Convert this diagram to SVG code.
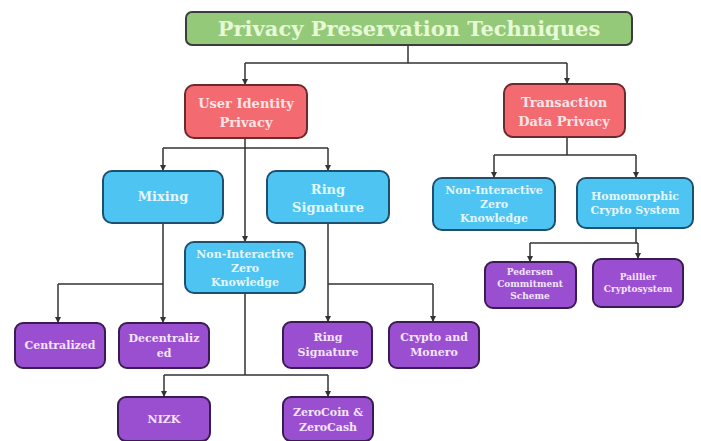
<svg xmlns="http://www.w3.org/2000/svg" width="701" height="441" viewBox="0 0 701 441">
<defs>
<marker id="ah" viewBox="0 0 6 6" refX="5" refY="3" markerWidth="6" markerHeight="6" markerUnits="userSpaceOnUse" orient="auto">
<path d="M0,0 L6,3 L0,6 Z" fill="#333"/>
</marker>
<style>
text{font-family:'DejaVu Serif','Liberation Serif',serif;font-weight:bold;text-anchor:middle}
.g{fill:#95c97a;stroke:#3c3c3c;stroke-width:2}
.r{fill:#f36b70;stroke:#6b2a2e;stroke-width:2}
.b{fill:#4ec4f2;stroke:#1d4f6e;stroke-width:2}
.p{fill:#9a4fd0;stroke:#3a1c52;stroke-width:2}
.gt{fill:#e6fad6;font-size:21px}
.rt{fill:#fde4e6;font-size:13px}
.bt{fill:#e4f7ff;font-size:13px}
.bs{fill:#e4f7ff;font-size:11px}
.pt{fill:#f3e4ff;font-size:11px}
.ps{fill:#f3e4ff;font-size:9px}
.c{fill:none;stroke:#333;stroke-width:1.5}
</style>
</defs>
<rect width="701" height="441" fill="#ffffff"/>
<g id="connectors">
<path class="c" d="M408,45 V63 M245,63 H567"/>
<path class="c" d="M245,63 V84" marker-end="url(#ah)"/>
<path class="c" d="M567,63 V83" marker-end="url(#ah)"/>
<path class="c" d="M245,138 V148 M163,148 H328"/>
<path class="c" d="M163,148 V170" marker-end="url(#ah)"/>
<path class="c" d="M328,148 V170" marker-end="url(#ah)"/>
<path class="c" d="M245,148 V241" marker-end="url(#ah)"/>
<path class="c" d="M567,137 V155 M494,155 H636"/>
<path class="c" d="M494,155 V177" marker-end="url(#ah)"/>
<path class="c" d="M636,155 V177" marker-end="url(#ah)"/>
<path class="c" d="M636,228 V243 M530,243 H638"/>
<path class="c" d="M530,243 V261" marker-end="url(#ah)"/>
<path class="c" d="M638,243 V258" marker-end="url(#ah)"/>
<path class="c" d="M163,223 V284 M58,284 H163"/>
<path class="c" d="M58,284 V322" marker-end="url(#ah)"/>
<path class="c" d="M163,284 V322" marker-end="url(#ah)"/>
<path class="c" d="M328,223 V284 M328,284 H433"/>
<path class="c" d="M328,284 V321" marker-end="url(#ah)"/>
<path class="c" d="M433,284 V321" marker-end="url(#ah)"/>
<path class="c" d="M245,293 V375 M164,375 H328"/>
<path class="c" d="M164,375 V396" marker-end="url(#ah)"/>
<path class="c" d="M328,375 V396" marker-end="url(#ah)"/>
</g>
<g id="n-root"><rect class="g" x="186" y="12" width="446" height="33" rx="6"/><text class="gt" x="409" y="36">Privacy Preservation Techniques</text></g>
<g id="n-user"><rect class="r" x="185" y="85" width="122" height="53" rx="9"/><text class="rt" x="246" y="108">User Identity</text><text class="rt" x="246" y="127">Privacy</text></g>
<g id="n-trans"><rect class="r" x="504" y="84" width="121" height="53" rx="9"/><text class="rt" x="564" y="107">Transaction</text><text class="rt" x="564" y="126">Data Privacy</text></g>
<g id="n-mixing"><rect class="b" x="103" y="171" width="120" height="52" rx="9"/><text class="bt" x="163" y="201">Mixing</text></g>
<g id="n-ring"><rect class="b" x="267" y="171" width="122" height="52" rx="9"/><text class="bt" x="328" y="194">Ring</text><text class="bt" x="328" y="212">Signature</text></g>
<g id="n-nizk-l"><rect class="b" x="185" y="242" width="120" height="51" rx="9"/><text class="bs" x="245" y="258">Non-Interactive</text><text class="bs" x="245" y="272">Zero</text><text class="bs" x="245" y="286">Knowledge</text></g>
<g id="n-nizk-r"><rect class="b" x="433" y="178" width="122" height="52" rx="9"/><text class="bs" x="494" y="194">Non-Interactive</text><text class="bs" x="494" y="208">Zero</text><text class="bs" x="494" y="222">Knowledge</text></g>
<g id="n-homo"><rect class="b" x="577" y="178" width="116" height="50" rx="9"/><text class="bs" x="635" y="200">Homomorphic</text><text class="bs" x="635" y="214">Crypto System</text></g>
<g id="n-pedersen"><rect class="p" x="485" y="262" width="91" height="46" rx="8"/><text class="ps" x="530" y="275">Pedersen</text><text class="ps" x="530" y="287">Commitment</text><text class="ps" x="530" y="299">Scheme</text></g>
<g id="n-paillier"><rect class="p" x="593" y="259" width="90" height="48" rx="8"/><text class="ps" x="638" y="280">Paillier</text><text class="ps" x="638" y="292">Cryptosystem</text></g>
<g id="n-central"><rect class="p" x="15" y="323" width="90" height="45" rx="8"/><text class="pt" x="60" y="349">Centralized</text></g>
<g id="n-decentral"><rect class="p" x="119" y="323" width="90" height="45" rx="8"/><text class="pt" x="164" y="342">Decentraliz</text><text class="pt" x="164" y="357">ed</text></g>
<g id="n-ringsig"><rect class="p" x="283" y="322" width="89" height="46" rx="8"/><text class="pt" x="328" y="341">Ring</text><text class="pt" x="328" y="356">Signature</text></g>
<g id="n-monero"><rect class="p" x="389" y="322" width="90" height="46" rx="8"/><text class="pt" x="434" y="341">Crypto and</text><text class="pt" x="434" y="356">Monero</text></g>
<g id="n-nizk"><rect class="p" x="118" y="397" width="92" height="44" rx="8"/><text class="pt" x="164" y="423">NIZK</text></g>
<g id="n-zerocoin"><rect class="p" x="283" y="397" width="90" height="44" rx="8"/><text class="pt" x="328" y="416">ZeroCoin &amp;</text><text class="pt" x="328" y="431">ZeroCash</text></g>
</svg>
